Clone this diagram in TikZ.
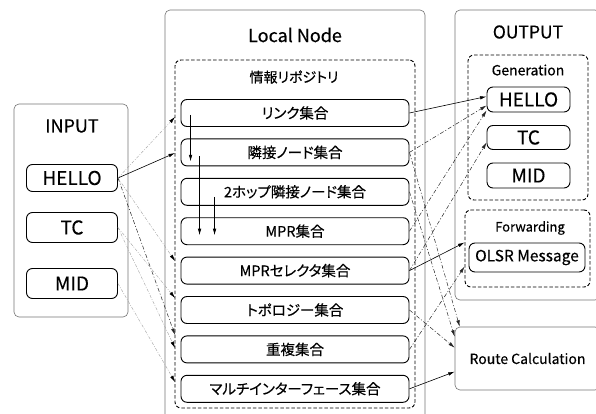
\documentclass[tikz,border=0pt]{standalone}
\usepackage{fontspec}
\setmainfont{Noto Sans CJK JP}[FakeBold=0.35, RawFeature=+palt]
\usepackage{tikz}
\usetikzlibrary{arrows.meta, positioning, calc}
\tikzset{
	panel/.style={rectangle, draw=black!55, line width=0.6pt, rounded corners=5pt},
	group/.style={rectangle, draw, line width=0.9pt, dash pattern=on 3.5pt off 2pt, rounded corners=6pt},
	setbox/.style={rectangle, draw, line width=0.9pt, rounded corners=6pt, minimum width=228pt, minimum height=27pt, inner sep=1pt, font=\fontsize{14.5}{16}\selectfont},
	msgbox/.style={rectangle, draw, line width=0.9pt, rounded corners=6pt, inner sep=1pt, font=\fontsize{19}{21}\selectfont},
	line/.style={draw, line width=0.6pt, -{Latex[length=6.5pt, width=3.5pt]}},
	dline/.style={line, draw=black!85, line width=0.5pt, dash pattern=on 4pt off 2pt on 1pt off 2pt},
	fline/.style={line, draw=black!35, line width=0.45pt, dash pattern=on 3pt off 1.5pt on 0.8pt off 1.5pt, -{Latex[length=6.5pt, width=3.5pt, color=black]}}
}

\begin{document}
\begin{tikzpicture}[x=1pt, y=-1pt]
	\useasboundingbox (0,0) rectangle (596,414);
	\clip (0,0) rectangle (596,414);

	% Outer panels
	\node[panel, minimum width=114pt, minimum height=213pt] (input_panel) at (71,210.5) {};
	\node[panel, minimum width=260pt, minimum height=420pt] (local_panel) at (295,220) {};
	\node[panel, minimum width=145pt, minimum height=290pt] (output_panel) at (527.5,155) {};
	\node[panel, minimum width=145pt, minimum height=63pt, font=\fontsize{14}{16}\selectfont] (route) at (527.5,358.5) {Route Calculation};

	\node[font=\fontsize{18}{20}\selectfont] (input_label) at (72,126) {INPUT};
	\node[font=\fontsize{18}{20}\selectfont] (local_label) at (295,35) {Local Node};
	\node[font=\fontsize{17.5}{20}\selectfont] (output_label) at (528,32) {OUTPUT};

	% Input messages
	\node[msgbox, minimum width=91pt, minimum height=27pt] (in_hello) at (72,178) {HELLO};
	\node[msgbox, minimum width=91pt, minimum height=30pt] (in_tc) at (72,227.5) {TC};
	\node[msgbox, minimum width=91pt, minimum height=30pt] (in_mid) at (72,283.5) {MID};

	% Information repository
	\node[group, minimum width=240pt, minimum height=348pt] (repo) at (295,234) {};
	\node[font=\fontsize{14}{16}\selectfont] (repo_label) at (294,77) {情報リポジトリ};
	\node[setbox] (link_set) at (295,113) {リンク集合};
	\node[setbox, below=11.5pt of link_set] (neigh_set) {隣接ノード集合};
	\node[setbox, below=11.5pt of neigh_set] (twohop_set) {2ホップ隣接ノード集合};
	\node[setbox, below=11.5pt of twohop_set] (mpr_set) {MPR集合};
	\node[setbox, below=11.5pt of mpr_set] (sel_set) {MPRセレクタ集合};
	\node[setbox, below=11.5pt of sel_set] (topo_set) {トポロジー集合};
	\node[setbox, below=11.5pt of topo_set] (dup_set) {重複集合};
	\node[setbox, below=11.5pt of dup_set] (multi_set) {マルチインターフェース集合};

	% Output: generation and forwarding
	\node[group, minimum width=120pt, minimum height=145pt] (gen_group) at (528,127.5) {};
	\node[font=\fontsize{14}{16}\selectfont] (gen_label) at (528,70) {Generation};
	\node[msgbox, minimum width=83pt, minimum height=25pt] (out_hello) at (528.5,99.5) {HELLO};
	\node[msgbox, minimum width=83pt, minimum height=24pt] (out_tc) at (528.5,137.5) {TC};
	\node[msgbox, minimum width=83pt, minimum height=25pt] (out_mid) at (528.5,175.5) {MID};

	\node[group, minimum width=125pt, minimum height=77pt] (fwd_group) at (527.5,248.5) {};
	\node[font=\fontsize{13}{15}\selectfont] (fwd_label) at (530,228) {Forwarding};
	\node[msgbox, minimum width=116pt, minimum height=29pt, font=\fontsize{15.5}{17}\selectfont] (olsr_msg) at (527,257.5) {OLSR Message};

	% Free ends on the repository border
	\coordinate (to_link) at (175,117);
	\coordinate (to_neigh) at (175,153);
	\coordinate (to_sel) at (175,261);
	\coordinate (to_topo) at (175,298);
	\coordinate (to_dup_a) at (175,335);
	\coordinate (to_dup_b) at (175,348);
	\coordinate (to_multi) at (175,382);

	% Received messages
	\draw[line] (in_hello.east) -- (to_neigh);
	\draw[fline] (in_hello.east) -- (to_link);
	\draw[fline] (in_hello.east) -- (to_sel);
	\draw[dline] (in_hello.east) -- (to_dup_a);
	\draw[fline] (in_tc.east) -- (to_topo);
	\draw[fline] (in_tc.east) -- (to_dup_b);
	\draw[fline] (in_mid.east) -- (to_multi);

	% Inside the repository
	\draw[line] ([xshift=10pt, yshift=-2pt]link_set.west) -- ([xshift=10pt, yshift=-9pt]neigh_set.west);
	\draw[line] ([xshift=19pt, yshift=-4pt]neigh_set.west) -- ([xshift=19pt, yshift=-4pt]mpr_set.west);
	\draw[line] ([xshift=34pt, yshift=-5pt]twohop_set.west) -- ([xshift=34pt, yshift=-4pt]mpr_set.west);

	% Generation, forwarding and routing
	\draw[line] (link_set.east) -- ([yshift=3pt]out_hello.west);
	\draw[dline] (neigh_set.east) -- ([yshift=-6pt]out_hello.west);
	\draw[dline] (mpr_set.east) -- ([yshift=-11pt]out_hello.west);
	\draw[dline] (sel_set.east) -- ([yshift=-5pt]out_tc.west);
	\draw[line] (sel_set.east) -- ([yshift=6pt]fwd_group.west);
	\draw[dline] (dup_set.east) -- ([yshift=-18pt]fwd_group.west);
	\draw[dline] (neigh_set.east) -- ([xshift=5pt]route.north west);
	\draw[dline] (twohop_set.east) -- ([yshift=-10pt]route.north west);
	\draw[dline] (topo_set.east) -- ([yshift=-21pt]route.north west);
	\draw[line] (multi_set.east) -- ([yshift=-45pt]route.north west);
\end{tikzpicture}
\end{document}
